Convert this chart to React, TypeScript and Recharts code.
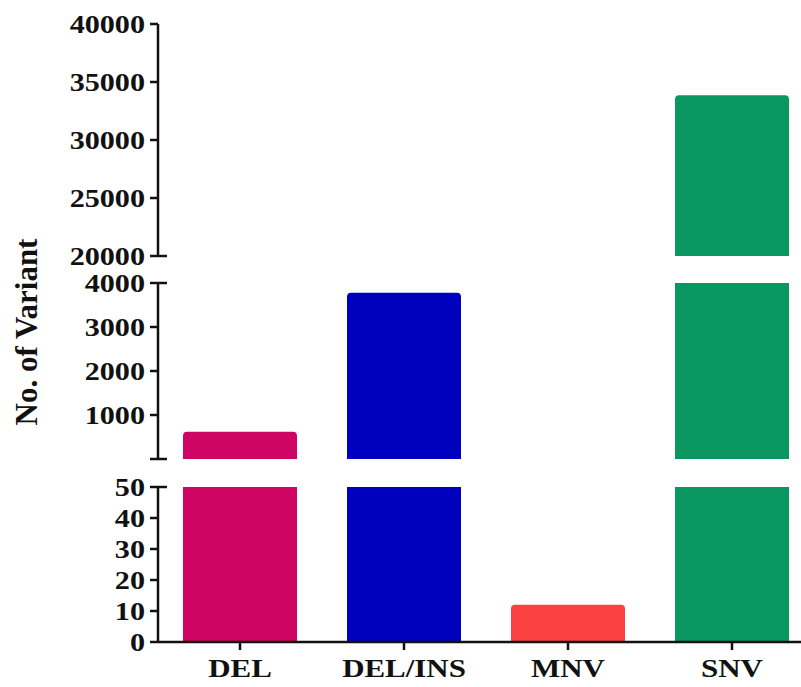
import { BarChart, Bar, XAxis, YAxis, Cell } from 'recharts';

const categories = ['DEL', 'DEL/INS', 'MNV', 'SNV'];
const variantCounts = [620, 3780, 12, 33850];
const barColors = ['#CE0563', '#0000BF', '#FA4040', '#0A9661'];

const topTicks = [20000, 25000, 30000, 35000, 40000];
const midTicks = [0, 1000, 2000, 3000, 4000];
const lowTicks = [0, 10, 20, 30, 40, 50];

const INK = '#111';
const FONT = "'Liberation Serif', 'Times New Roman', Times, serif";
const CHART_W = 814;
const AXIS_W = 158;
const TICK_SIZE = 8;
const TICK_MARGIN = 5;

const rows = categories.map((name, i) => ({ name, count: variantCounts[i] }));
// each panel of the broken axis only shows bars that reach into it
const topRows = rows.map((r) => ({ ...r, count: r.count > 20000 ? r.count : null }));
const midRows = rows.map((r) => ({ ...r, count: r.count > 50 ? r.count : null }));

const labelStyle = { fontFamily: FONT, fontWeight: 700 as const, fontSize: 26 };

// y tick: draws its own tick line; "caps" also extend to the right at the axis breaks
function makeYTick(caps: number[], unlabeled: number[] = []) {
  return (props: any) => {
    const { x, y, payload } = props;
    const v = payload.value;
    const ax = x + TICK_SIZE + TICK_MARGIN;
    const ext = caps.includes(v) ? 9 : 0;
    return (
      <g>
        <line x1={ax - TICK_SIZE} x2={ax + ext} y1={y} y2={y} stroke={INK} strokeWidth={2.5} />
        {!unlabeled.includes(v) && (
          <text
            transform={`translate(${x},${y}) scale(1.16,1)`}
            textAnchor="end"
            dy="0.33em"
            style={labelStyle}
            fill={INK}
          >
            {v}
          </text>
        )}
      </g>
    );
  };
}

const XTick = (props: any) => {
  const { x, y, payload } = props;
  return (
    <text
      transform={`translate(${x},${y}) scale(1.19,1)`}
      textAnchor="middle"
      dy={25}
      style={labelStyle}
      fill={INK}
    >
      {payload.value}
    </text>
  );
};

function Bars() {
  return (
    <Bar dataKey="count" barSize={114} radius={[4, 4, 0, 0]} isAnimationActive={false}>
      {rows.map((r, i) => (
        <Cell key={r.name} fill={barColors[i]} />
      ))}
    </Bar>
  );
}

const axisLine = { stroke: INK, strokeWidth: 2.5 };

export default function App() {
  return (
    <div style={{ position: 'fixed', left: 0, top: 0, width: 801, height: 687, overflow: 'hidden', background: '#fff' }}>
      <div style={{ position: 'absolute', left: 0, top: 0 }}>
        <BarChart width={CHART_W} height={276} data={topRows} margin={{ top: 24, right: 0, bottom: 20, left: 0 }}>
          <XAxis dataKey="name" hide />
          <YAxis
            type="number"
            width={AXIS_W}
            domain={[20000, 40000]}
            ticks={topTicks}
            interval={0}
            allowDataOverflow
            axisLine={axisLine}
            tickLine={false}
            tickSize={TICK_SIZE}
            tickMargin={TICK_MARGIN}
            tick={makeYTick([20000])}
          />
          {Bars()}
        </BarChart>
      </div>
      <div style={{ position: 'absolute', left: 0, top: 258 }}>
        <BarChart width={CHART_W} height={213} data={midRows} margin={{ top: 25, right: 0, bottom: 12, left: 0 }}>
          <XAxis dataKey="name" hide />
          <YAxis
            type="number"
            width={AXIS_W}
            domain={[0, 4000]}
            ticks={midTicks}
            interval={0}
            allowDataOverflow
            axisLine={axisLine}
            tickLine={false}
            tickSize={TICK_SIZE}
            tickMargin={TICK_MARGIN}
            tick={makeYTick([0, 4000], [0])}
          />
          {Bars()}
        </BarChart>
      </div>
      <div style={{ position: 'absolute', left: 0, top: 466 }}>
        <BarChart width={CHART_W} height={221} data={rows} margin={{ top: 21, right: 0, bottom: 0, left: 0 }}>
          <XAxis
            dataKey="name"
            height={45}
            axisLine={axisLine}
            tickLine={{ stroke: INK, strokeWidth: 2.5 }}
            tickSize={8}
            tickMargin={2}
            interval={0}
            tick={<XTick />}
          />
          <YAxis
            type="number"
            width={AXIS_W}
            domain={[0, 50]}
            ticks={lowTicks}
            interval={0}
            allowDataOverflow
            axisLine={axisLine}
            tickLine={false}
            tickSize={TICK_SIZE}
            tickMargin={TICK_MARGIN}
            tick={makeYTick([50])}
          />
          {Bars()}
        </BarChart>
      </div>
      <svg style={{ position: 'absolute', left: 0, top: 0 }} width={60} height={687}>
        <text
          transform="translate(26,332) rotate(-90)"
          textAnchor="middle"
          dy="0.35em"
          style={{ fontFamily: FONT, fontWeight: 700, fontSize: 31 }}
          fill={INK}
        >
          No. of Variant
        </text>
      </svg>
    </div>
  );
}
